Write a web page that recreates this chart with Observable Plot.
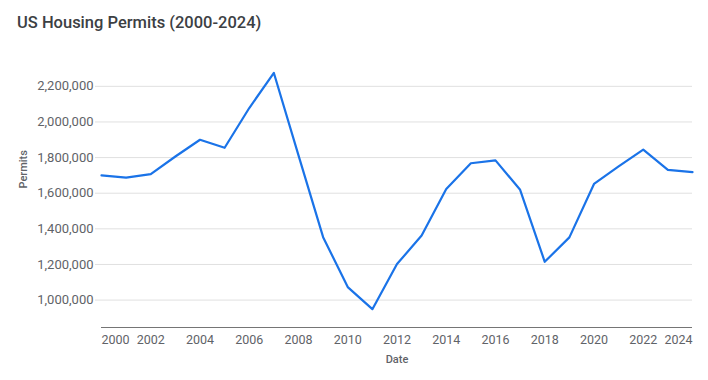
<!DOCTYPE html>
<html>
<head>
<meta charset="utf-8">
<script src="https://cdn.jsdelivr.net/npm/d3@7"></script>
<script src="https://cdn.jsdelivr.net/npm/@observablehq/plot@0.6"></script>
<style>
  body { margin: 0; background: #fff; }
  #wrap { position: relative; width: 708px; height: 380px; font-family: Roboto, "Open Sans", sans-serif; }
  #title { position: absolute; left: 17px; top: 13px; font-size: 16.5px; font-weight: 500; color: #3c4043; line-height: 20px; white-space: nowrap; }
</style>
</head>
<body>
<div id="wrap">
  <div id="title">US Housing Permits (2000-2024)</div>
  <div id="chart"></div>
</div>
<script>
const years = [2000, 2001, 2002, 2003, 2004, 2005, 2006, 2007, 2008, 2009, 2010, 2011, 2012,
               2013, 2014, 2015, 2016, 2017, 2018, 2019, 2020, 2021, 2022, 2023, 2024];
const permits = [1700000, 1687000, 1707000, 1806000, 1900000, 1855000, 2078000, 2275000, 1812000,
                 1353000, 1073000, 949000, 1202000, 1362000, 1624000, 1768000, 1784000, 1619000,
                 1215000, 1352000, 1652000, 1750000, 1845000, 1731000, 1718000];
const yTicks = [1000000, 1200000, 1400000, 1600000, 1800000, 2000000, 2200000];
const xTicksMid = [2002, 2004, 2006, 2008, 2010, 2012, 2014, 2016, 2018, 2020, 2022];
const xTickFirst = [2000];
const xTickLast = [2024];
const xLabel = "Date";
const yLabel = "Permits";

const data = years.map((y, i) => ({ year: y, value: permits[i] }));
const fmt = d3.format(",");
const tickColor = "#5f6368";
const font = "Roboto, 'Open Sans', sans-serif";

const chart = Plot.plot({
  width: 708,
  height: 380,
  marginLeft: 101,
  marginRight: 16,
  marginTop: 68,
  marginBottom: 53,
  style: { fontFamily: font, background: "transparent" },
  x: { type: "linear", domain: [2000, 2024] },
  y: { type: "linear", domain: [846000, 2300000] },
  marks: [
    Plot.gridY(yTicks, { stroke: "#e0e0e0", strokeOpacity: 1, strokeWidth: 1 }),
    Plot.axisY(yTicks, {
      tickSize: 6, tickPadding: 2, stroke: "#e0e0e0", strokeOpacity: 1,
      tickFormat: fmt, fontSize: 13, fill: tickColor, label: null
    }),
    Plot.ruleY([846000], { stroke: "#757575", strokeWidth: 1 }),
    Plot.axisX(xTicksMid, { tickSize: 0, tickPadding: 8, tickFormat: d => String(d), fontSize: 12.5, fill: tickColor, label: null }),
    Plot.axisX(xTickFirst, { tickSize: 0, tickPadding: 8, textAnchor: "start", tickFormat: d => String(d), fontSize: 12.5, fill: tickColor, label: null }),
    Plot.axisX(xTickLast, { tickSize: 0, tickPadding: 8, textAnchor: "end", tickFormat: d => String(d), fontSize: 12.5, fill: tickColor, label: null }),
    Plot.line(data, { x: "year", y: "value", stroke: "#1a73e8", strokeWidth: 2.2 }),
    Plot.text([xLabel], { frameAnchor: "bottom", dy: 32, lineAnchor: "middle", fontSize: 11, fontWeight: 500, fill: tickColor }),
    Plot.text([yLabel], { frameAnchor: "left", dx: -78.5, dy: -9.5, rotate: -90, lineAnchor: "middle", fontSize: 11, fontWeight: 500, fill: tickColor })
  ]
});
document.getElementById("chart").appendChild(chart);
</script>
</body>
</html>
